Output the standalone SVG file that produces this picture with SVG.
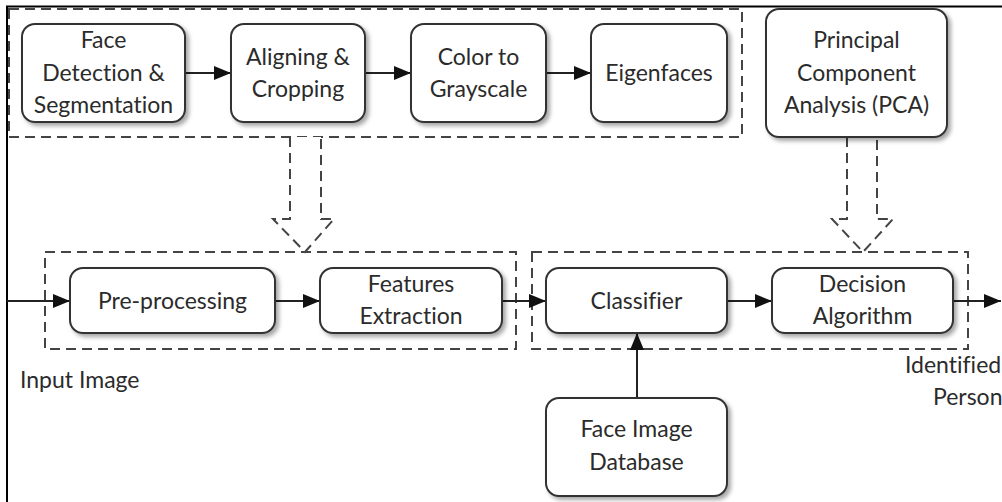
<svg xmlns="http://www.w3.org/2000/svg" width="1002" height="502" viewBox="0 0 1002 502">
<defs>
<style>
.box{fill:#fff;stroke:#333;stroke-width:2;filter:url(#sh)}
.grp{fill:none;stroke:#444;stroke-width:2;stroke-dasharray:10 6}
.hollow{fill:#fff;stroke:#444;stroke-width:2;stroke-dasharray:10 6}
.t{font-family:Lato,"Liberation Sans",sans-serif;font-size:23px;fill:#2b2b2b;text-anchor:middle;font-variant-ligatures:none}
.lbl{font-family:Lato,"Liberation Sans",sans-serif;font-size:23px;fill:#2b2b2b;font-variant-ligatures:none}
.arr{stroke:#222;stroke-width:2;fill:none;marker-end:url(#ah)}
.frame{stroke:#000;stroke-width:2;fill:none}
</style>
<filter id="sh" x="-10%" y="-10%" width="125%" height="130%">
<feDropShadow dx="3" dy="3" stdDeviation="2" flood-color="#000" flood-opacity="0.35"/>
</filter>
<marker id="ah" markerUnits="userSpaceOnUse" markerWidth="18" markerHeight="14" refX="17" refY="7" orient="auto">
<path d="M0,0 L17,7 L0,14 z" fill="#111"/>
</marker>
</defs>
<rect width="1002" height="502" fill="#fff"/>
<path class="frame" d="M7,502 V6.5 H1002"/>

<g id="groups">
<rect class="grp" x="9" y="9" width="733" height="128"/>
<rect class="grp" x="45" y="252" width="471" height="97"/>
<rect class="grp" x="532" y="252" width="436" height="97"/>
</g>

<g id="hollow-arrows">
<path class="hollow" d="M290,137 V219 H273 L305,252 L334,219 H321 V137"/>
<path class="hollow" d="M847,137 V219 H832 L863,252 L893,219 H877 V137"/>
</g>

<g id="connectors">
<line class="arr" x1="185" y1="73" x2="231" y2="73"/>
<line class="arr" x1="365" y1="73" x2="411" y2="73"/>
<line class="arr" x1="546" y1="73" x2="591" y2="73"/>
<line class="arr" x1="7" y1="301" x2="70" y2="301"/>
<line class="arr" x1="275" y1="301" x2="320" y2="301"/>
<line class="arr" x1="502" y1="301" x2="546" y2="301"/>
<line class="arr" x1="727" y1="301" x2="772" y2="301"/>
<line class="arr" x1="953" y1="301" x2="1001" y2="301"/>
<line class="arr" x1="637" y1="398" x2="637" y2="333"/>
</g>

<g id="face-detection">
<rect class="box" x="22" y="24" width="163" height="98" rx="13"/>
<text class="t" x="103.5" y="48">Face</text>
<text class="t" x="103.5" y="81">Detection &amp;</text>
<text class="t" x="103.5" y="113">Segmentation</text>
</g>
<g id="aligning">
<rect class="box" x="231" y="24" width="134" height="98" rx="13"/>
<text class="t" x="298" y="65">Aligning &amp;</text>
<text class="t" x="298" y="97">Cropping</text>
</g>
<g id="grayscale">
<rect class="box" x="411" y="24" width="135" height="98" rx="13"/>
<text class="t" x="478.5" y="65">Color to</text>
<text class="t" x="478.5" y="97">Grayscale</text>
</g>
<g id="eigenfaces">
<rect class="box" x="591" y="24" width="136" height="98" rx="13"/>
<text class="t" x="659" y="81">Eigenfaces</text>
</g>
<g id="pca">
<rect class="box" x="766" y="9" width="181" height="128" rx="13"/>
<text class="t" x="856.5" y="48">Principal</text>
<text class="t" x="856.5" y="81">Component</text>
<text class="t" x="856.5" y="113">Analysis (PCA)</text>
</g>
<g id="preprocessing">
<rect class="box" x="70" y="268" width="205" height="65" rx="13"/>
<text class="t" x="172.5" y="309">Pre-processing</text>
</g>
<g id="features">
<rect class="box" x="320" y="268" width="182" height="65" rx="13"/>
<text class="t" x="411" y="292">Features</text>
<text class="t" x="411" y="324">Extraction</text>
</g>
<g id="classifier">
<rect class="box" x="546" y="268" width="181" height="65" rx="13"/>
<text class="t" x="636.5" y="309">Classifier</text>
</g>
<g id="decision">
<rect class="box" x="772" y="268" width="181" height="65" rx="13"/>
<text class="t" x="862.5" y="292">Decision</text>
<text class="t" x="862.5" y="324">Algorithm</text>
</g>
<g id="database">
<rect class="box" x="546" y="398" width="181" height="98" rx="13"/>
<text class="t" x="636.5" y="437">Face Image</text>
<text class="t" x="636.5" y="470">Database</text>
</g>
<g id="labels">
<text class="lbl" x="20" y="388">Input Image</text>
<text class="lbl" x="905" y="373">Identified</text>
<text class="lbl" x="933" y="405">Person</text>
</g>
</svg>
